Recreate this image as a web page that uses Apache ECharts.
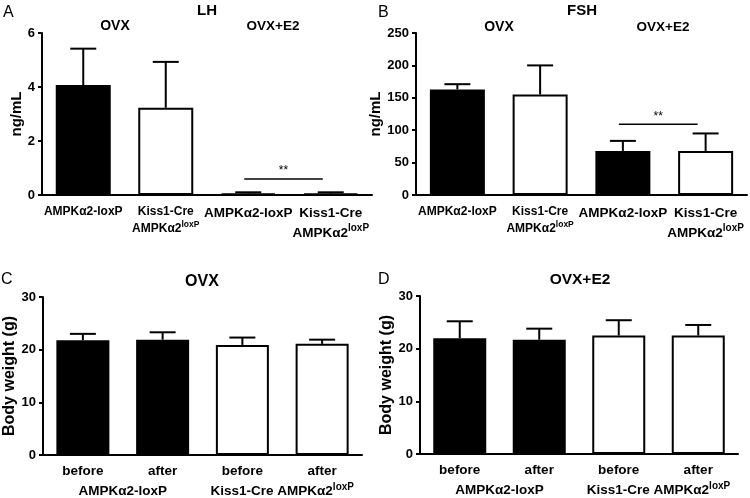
<!DOCTYPE html>
<html>
<head>
<meta charset="utf-8">
<script src="https://cdn.jsdelivr.net/npm/echarts@6/dist/echarts.min.js"></script>
<style>html,body{margin:0;padding:0;background:#fff}#c{width:750px;height:498px}</style>
</head>
<body>
<div id="c"></div>
<script>
// ---- data ----
const hormoneCats = ['AMPKα2-loxP', 'Kiss1-Cre AMPKα2loxP', 'AMPKα2-loxP', 'Kiss1-Cre AMPKα2loxP'];
const lhMean  = [4.07, 3.23, 0.06, 0.06];
const lhUpper = [5.42, 4.93, 0.10, 0.10];
const fshMean  = [163, 155, 68, 68];
const fshUpper = [171, 200, 83.5, 95];
const bwCats   = ['before', 'after', 'before', 'after'];
const bwGroups = ['AMPKα2-loxP', 'Kiss1-Cre AMPKα2loxP'];
const bwOvxMean  = [21.8, 21.9, 20.9, 21.1];
const bwOvxUpper = [23.0, 23.3, 22.3, 21.9];
const bwE2Mean  = [22.0, 21.7, 22.5, 22.5];
const bwE2Upper = [25.2, 23.8, 25.4, 24.5];
const lhTicks = [0, 2, 4, 6];
const fshTicks = [0, 50, 100, 150, 200, 250];
const bwTicks = [0, 10, 20, 30];
const lhSig = [2, 3, 0.59];
const fshSig = [2, 3, 109];

const FONT = '"Liberation Sans", Arial, Helvetica, sans-serif';

function richLabel(label, key, twoLine) {
  let out;
  if (/2loxP$/.test(label)) {
    const base = label.slice(0, -4);
    if (twoLine) {
      const parts = base.split(' ');
      out = '{' + key + '|' + parts[0] + '}\n{' + key + '|' + parts[1] + '}{' + key + 's|loxP}';
    } else {
      out = '{' + key + '|' + base + '}{' + key + 's|loxP}';
    }
  } else {
    out = '{' + key + '|' + label + '}';
  }
  return out;
}

const rich = {
  a:  {fontFamily: FONT, fontWeight: 'bold', fontSize: 12, color: '#000', lineHeight: 17},
  as: {fontFamily: FONT, fontWeight: 'bold', fontSize: 8.5, color: '#000', lineHeight: 17, verticalAlign: 'top', padding:[0,0,5,0]},
  b:  {fontFamily: FONT, fontWeight: 'bold', fontSize: 13.5, color: '#000', lineHeight: 20},
  bs: {fontFamily: FONT, fontWeight: 'bold', fontSize: 10, color: '#000', lineHeight: 20, verticalAlign: 'top', padding:[0,0,6,0]},
  c:  {fontFamily: FONT, fontWeight: 'bold', fontSize: 13.5, color: '#000', lineHeight: 18},
  cs: {fontFamily: FONT, fontWeight: 'bold', fontSize: 10, color: '#000', lineHeight: 18, verticalAlign: 'top', padding:[0,0,6,0]}
};

const grids = [
  {left: 42, top: 33, width: 330, height: 162},
  {left: 416, top: 33, width: 331, height: 162},
  {left: 43, top: 297, width: 319, height: 159},
  {left: 420, top: 296, width: 318, height: 158}
];

function yAx(gi, ticks, name, gap, nameSize) {
  return {
    type: 'value', gridIndex: gi, min: ticks[0], max: ticks[ticks.length - 1],
    interval: ticks[1] - ticks[0],
    name: name, nameLocation: 'middle', nameGap: gap,
    nameTextStyle: {fontFamily: FONT, fontWeight: 'bold', fontSize: nameSize, color: '#000'},
    axisLine: {show: true, lineStyle: {color: '#000', width: 2}},
    axisTick: {show: true, length: 4, lineStyle: {color: '#000', width: 2}},
    axisLabel: {fontFamily: FONT, fontWeight: 'bold', fontSize: 13, color: '#000', margin: 7},
    splitLine: {show: false}
  };
}

function xAxHormone(gi, cats) {
  return {
    type: 'category', gridIndex: gi, data: cats,
    axisLine: {lineStyle: {color: '#000', width: 2}},
    axisTick: {alignWithLabel: true, length: 4, lineStyle: {color: '#000', width: 2}},
    axisLabel: {
      interval: 0, margin: 8,
      formatter: function (v, i) { return richLabel(v, i < 2 ? 'a' : 'b', true); },
      rich: rich
    }
  };
}

function xAxBw(gi, cats) {
  return {
    type: 'category', gridIndex: gi, data: cats,
    axisLine: {lineStyle: {color: '#000', width: 2}},
    axisTick: {alignWithLabel: true, length: 4, lineStyle: {color: '#000', width: 2}},
    axisLabel: {interval: 0, margin: 7, formatter: v => richLabel(v, 'c', false), rich: rich}
  };
}

function xAxGroup(gi, groups) {
  return {
    type: 'category', gridIndex: gi, data: groups, position: 'bottom',
    axisLine: {show: false}, axisTick: {show: false},
    axisLabel: {interval: 0, margin: 27, formatter: v => richLabel(v, 'c', false), rich: rich}
  };
}

function barSeries(xi, yi, means, fillFn, bw) {
  return {
    type: 'bar', xAxisIndex: xi, yAxisIndex: yi, barWidth: bw,
    data: means.map((m, i) => ({value: m, itemStyle: {color: fillFn(i), borderColor: '#000', borderWidth: 2}})),
    z: 2, animation: false
  };
}

function errSeries(xi, yi, means, uppers) {
  return {
    type: 'custom', xAxisIndex: xi, yAxisIndex: yi, z: 3, animation: false,
    data: means.map((m, i) => [i, m, uppers[i]]),
    renderItem: function (params, api) {
      const p0 = api.coord([api.value(0), api.value(1)]);
      const p1 = api.coord([api.value(0), api.value(2)]);
      const hw = 13;
      return {
        type: 'group',
        children: [
          {type: 'line', shape: {x1: p0[0], y1: p0[1], x2: p1[0], y2: p1[1]}, style: {stroke: '#000', lineWidth: 2}},
          {type: 'line', shape: {x1: p1[0] - hw, y1: p1[1], x2: p1[0] + hw, y2: p1[1]}, style: {stroke: '#000', lineWidth: 2}}
        ]
      };
    }
  };
}

function sigSeries(xi, yi, sig) {
  return {
    type: 'custom', xAxisIndex: xi, yAxisIndex: yi, z: 3, animation: false,
    data: [sig],
    renderItem: function (params, api) {
      const a = api.coord([api.value(0), api.value(2)]);
      const b = api.coord([api.value(1), api.value(2)]);
      return {
        type: 'group',
        children: [
          {type: 'line', shape: {x1: a[0] - 4, y1: a[1], x2: b[0] - 8, y2: b[1]}, style: {stroke: '#000', lineWidth: 1.5}},
          {type: 'text', x: (a[0] + b[0]) / 2 - 6, y: a[1] - 2, style: {text: '**', fontFamily: FONT, fontSize: 12, fill: '#000', align: 'center', verticalAlign: 'bottom'}}
        ]
      };
    }
  };
}

function ttl(text, x, y, size, bold, align) {
  return {text: text, left: x, top: y, textAlign: align || 'center', padding: 0,
    textStyle: {fontFamily: FONT, fontSize: size, fontWeight: bold ? 'bold' : 'normal', color: '#000'}};
}

const genoHormone = i => (i % 2 === 0 ? '#000' : '#fff');
const genoBw = i => (i < 2 ? '#000' : '#fff');

const option = {
  animation: false,
  backgroundColor: '#fff',
  title: [
    ttl('A', 3, 5, 16, false, 'left'),
    ttl('B', 378, 5, 16, false, 'left'),
    ttl('C', 1, 272, 16, false, 'left'),
    ttl('D', 378, 272, 16, false, 'left'),
    ttl('LH', 207, 3, 15, true),
    ttl('FSH', 582, 3, 15, true),
    ttl('OVX', 115, 19, 14, true),
    ttl('OVX+E2', 273, 19, 13.5, true),
    ttl('OVX', 499, 20, 14, true),
    ttl('OVX+E2', 663, 20, 13.5, true),
    ttl('OVX', 202, 274, 16, true),
    ttl('OVX+E2', 580, 272, 15.5, true)
  ],
  grid: grids,
  xAxis: [
    xAxHormone(0, hormoneCats),
    xAxHormone(1, hormoneCats),
    xAxBw(2, bwCats),
    xAxBw(3, bwCats),
    xAxGroup(2, bwGroups),
    xAxGroup(3, bwGroups)
  ],
  yAxis: [
    yAx(0, lhTicks, 'ng/mL', 17, 15),
    yAx(1, fshTicks, 'ng/mL', 26, 15),
    yAx(2, bwTicks, 'Body weight (g)', 21, 16),
    yAx(3, bwTicks, 'Body weight (g)', 21, 16)
  ],
  series: [
    barSeries(0, 0, lhMean, genoHormone, 55),
    errSeries(0, 0, lhMean, lhUpper),
    sigSeries(0, 0, lhSig),
    barSeries(1, 1, fshMean, genoHormone, 55),
    errSeries(1, 1, fshMean, fshUpper),
    sigSeries(1, 1, fshSig),
    barSeries(2, 2, bwOvxMean, genoBw, 53),
    errSeries(2, 2, bwOvxMean, bwOvxUpper),
    barSeries(3, 3, bwE2Mean, genoBw, 53),
    errSeries(3, 3, bwE2Mean, bwE2Upper)
  ]
};

const chart = echarts.init(document.getElementById('c'), null, {renderer: 'canvas'});
chart.setOption(option);
</script>
</body>
</html>
